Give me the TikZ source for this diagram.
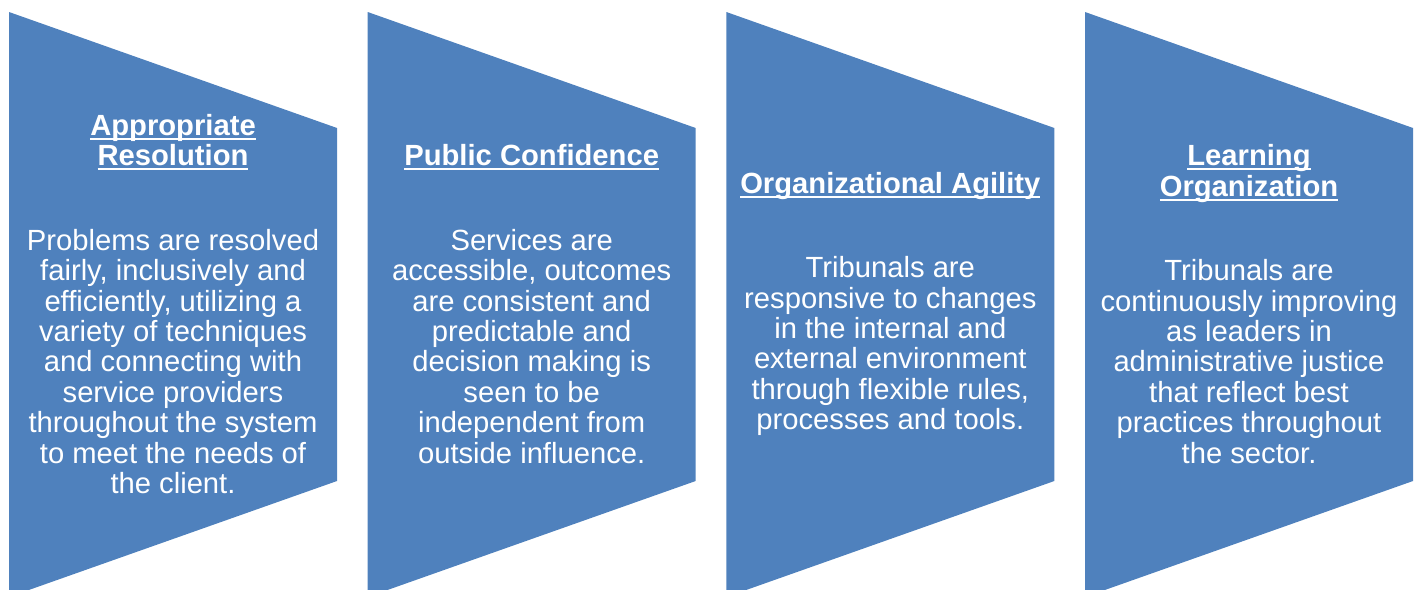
\documentclass[tikz,border=0pt]{standalone}
\usepackage{fontspec}
\setmainfont{Liberation Sans}
\definecolor{panelblue}{RGB}{79,129,189}
% underlined bold heading line
\newcommand\headline[1]{\setbox0\hbox{\bfseries #1}\rlap{\color{white}\rule[-4.5pt]{\wd0}{2pt}}\box0}
\tikzset{
  panel/.style={fill=panelblue, draw=none},
  paneltext/.style={text=white, align=center, font=\fontsize{29.2}{30.4}\selectfont, inner sep=0pt}
}
\begin{document}
\begin{tikzpicture}[x=1pt,y=-1pt]
\useasboundingbox (0,0) rectangle (1420,589);
\clip (0,0) rectangle (1420,589);
\foreach \i/\x in {1/9,2/367.67,3/726.33,4/1085}{
  \fill[panel] (\x,12) -- ++(328,116) -- ++(0,353) -- ++(-328,116) -- cycle;
}
\node[paneltext] (p1) at (173,304) {\headline{Appropriate}\\\headline{Resolution}\\[54pt]
Problems are resolved\\fairly, inclusively and\\efficiently, utilizing a\\variety of techniques\\and connecting with\\service providers\\throughout the system\\to meet the needs of\\the client.};
\node[paneltext] (p2) at (531.67,304) {\headline{Public Confidence}\\[54pt]
Services are\\accessible, outcomes\\are consistent and\\predictable and\\decision making is\\seen to be\\independent from\\outside influence.};
\node[paneltext] (p3) at (890.33,304) {\headline{Organizational Agility}\\[54pt]
Tribunals are\\responsive to changes\\in the internal and\\external environment\\through flexible rules,\\processes and tools.};
\node[paneltext] (p4) at (1249,304) {\headline{Learning}\\\headline{Organization}\\[54pt]
Tribunals are\\continuously improving\\as leaders in\\administrative justice\\that reflect best\\practices throughout\\the sector.};
\end{tikzpicture}
\end{document}
